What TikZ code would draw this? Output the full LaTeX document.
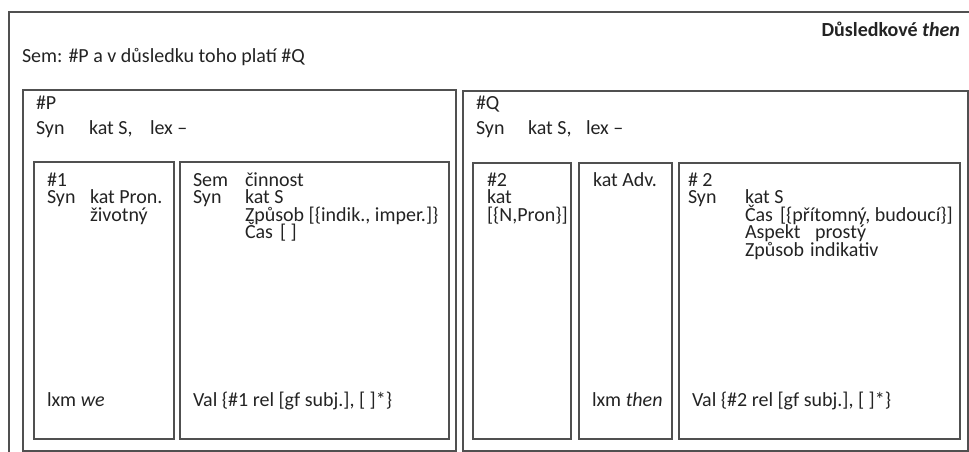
\documentclass[tikz,border=0pt]{standalone}
\usepackage{fontspec}
\setmainfont{Carlito}
\definecolor{linegray}{RGB}{80,80,80}
\definecolor{textgray}{RGB}{35,35,35}
\begin{document}
\begin{tikzpicture}[x=1pt,y=-1pt,
  box/.style={draw=linegray, line width=1.1pt, inner sep=0pt, outer sep=0pt, anchor=north west},
  txt/.style={anchor=base west, inner sep=0pt, outer sep=0pt, font=\fontsize{20}{17.5}\selectfont, text=textgray},
]
\path[use as bounding box, clip] (0,0) rectangle (969,452);
% outer frame (cropped by the picture edge)
\node[box, minimum width=1000pt, minimum height=480pt] (outer) at (9,12) {};
% main halves
\node[box, minimum width=433pt, minimum height=361pt] (P) at (23,90) {};
\node[box, minimum width=505pt, minimum height=360pt] (Q) at (463,91) {};
% inner boxes
\node[box, minimum width=140pt, minimum height=277pt] (b1) at (34,162) {};
\node[box, minimum width=269pt, minimum height=277pt] (b2) at (180,162) {};
\node[box, minimum width=98pt, minimum height=276pt] (b3) at (473,163) {};
\node[box, minimum width=93pt, minimum height=276pt] (b4) at (579,163) {};
\node[box, minimum width=281pt, minimum height=276pt] (b5) at (679,163) {};
% texts
\node[txt] (sem) at (22,63) {Sem: \#P a v důsledku toho platí \#Q};
\node[txt, anchor=base east] (title) at (960,37) {\textbf{Důsledkové \textit{then}}};
\node[txt] (p1) at (36,110) {\#P};
\node[txt] (p2) at (36,134) {Syn};
\node[txt] (p3) at (89,134) {kat S,};
\node[txt] (p4) at (150,134) {lex –};
\node[txt] (q1) at (476,110) {\#Q};
\node[txt] (q2) at (476,134) {Syn};
\node[txt] (q3) at (528,134) {kat S,};
\node[txt] (q4) at (586,134) {lex –};
% box 1
\node[txt] (a1) at (47,186) {\#1};
\node[txt] (a2) at (47,203.5) {Syn};
\node[txt] (a3) at (90,203.5) {kat Pron.};
\node[txt] (a4) at (90,221) {životný};
\node[txt] (a5) at (47,406) {lxm \textit{we}};
% box 2
\node[txt] (c1) at (193,186) {Sem};
\node[txt] (c2) at (245,186) {činnost};
\node[txt] (c3) at (193,203.5) {Syn};
\node[txt] (c4) at (245,203.5) {kat S};
\node[txt] (c5) at (245,221) {Způsob [\{indik., imper.]\}};
\node[txt] (c6) at (245,238.5) {Čas};
\node[txt] (c7) at (280,238.5) {[ ]};
\node[txt] (c8) at (193,406) {Val \{\#1 rel [gf subj.], [ ]*\}};
% box 3
\node[txt] (d1) at (487,186) {\#2};
\node[txt] (d2) at (487,203.5) {kat};
\node[txt] (d3) at (487,221) {[\{N,Pron\}]};
% box 4
\node[txt] (e1) at (593,186) {kat Adv.};
\node[txt] (e2) at (592,406) {lxm \textit{then}};
% box 5
\node[txt] (f1) at (688,186) {\# 2};
\node[txt] (f2) at (688,203.5) {Syn};
\node[txt] (f3) at (745,203.5) {kat S};
\node[txt] (f4) at (745,221) {Čas};
\node[txt] (f5) at (780,221) {[\{přítomný, budoucí\}]};
\node[txt] (f6) at (745,238.5) {Aspekt};
\node[txt] (f7) at (815,238.5) {prostý};
\node[txt] (f8) at (745,256) {Způsob};
\node[txt] (f9) at (810,256) {indikativ};
\node[txt] (f10) at (692,406) {Val \{\#2 rel [gf subj.], [ ]*\}};
\end{tikzpicture}
\end{document}
